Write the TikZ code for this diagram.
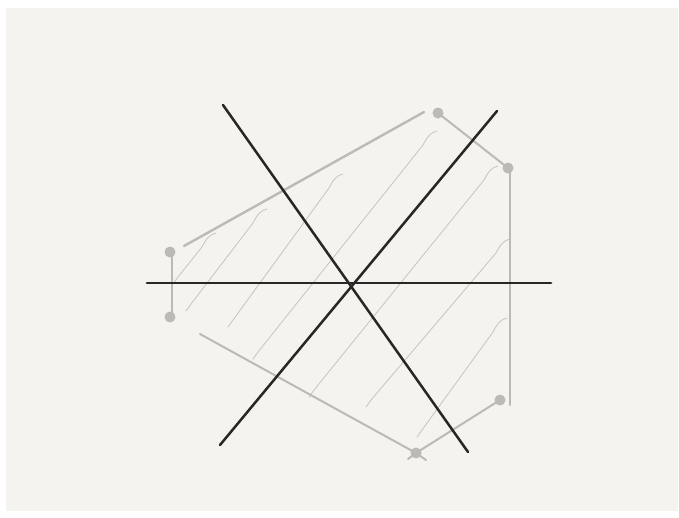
\documentclass[tikz,border=0pt]{standalone}
\usepackage{tikz}
\usetikzlibrary{calc}
\definecolor{paper}{RGB}{244,243,240}
\definecolor{inkDark}{RGB}{40,39,37}
\definecolor{inkGrey}{RGB}{188,186,180}
\definecolor{inkHatch}{RGB}{198,196,190}

\begin{document}
\begin{tikzpicture}[x=1pt, y=-1pt,
    axis/.style={draw=inkDark, line width=2.5pt, line cap=round},
    edge/.style={draw=inkGrey, line width=2pt, line cap=round},
    hatch/.style={draw=inkHatch, line width=0.8pt, line cap=round},
    dot/.style={fill=inkGrey}]
\useasboundingbox (0,0) rectangle (679,517);
\fill[white] (0,0) rectangle (679,517);
\fill[paper] (6,8) rectangle (678,511);

% polygon corners
\coordinate (pTop)  at (438,113);
\coordinate (pRt)   at (508,168);
\coordinate (pLowR) at (500,400);
\coordinate (pBot)  at (416,453);
\coordinate (pLfU)  at (170,252);
\coordinate (pLfD)  at (170,317);

% hatching (loose, hand drawn)
\foreach \sx/\sy/\ex/\ey in {216/233/173/284, 267/209/186/311,
                             343/174/228/327, 437/131/253/359,
                             498/166/309/397, 510/239/366/407,
                             507/318/417/437}
   \draw[hatch] (\sx,\sy) .. controls ($(\sx,\sy)+(-6,1)$) and ($(\sx,\sy)+(-10,6)$) .. ($(\sx,\sy)+(-14,14)$)
                -- ($(\ex,\ey)+(5,-7)$) .. controls ($(\ex,\ey)+(2,-3)$) .. (\ex,\ey);

% polygon edges
\draw[edge, line width=2.4pt] (184,246) -- (424,112);
\draw[edge] (pTop) -- (pRt);
\draw[edge] (510,172) -- (510,405);
\draw[edge] (pLowR) -- (pBot);
\draw[edge] (200,334) -- (pBot) -- (426,460);
\draw[edge] (408,459) -- (pBot);
\draw[edge] (172,256) -- (172,316);

% corner dots
\foreach \p in {pTop,pRt,pLowR,pBot,pLfU,pLfD}
   \fill[dot] (\p) circle (5.5);

% three lines through the centre
\coordinate (ctr) at (352,284);
\draw[axis, line width=2.8pt] (147,283) -- (551,283);
\draw[axis] (223,105) -- (468,452);
\draw[axis] (497,111) -- (220,445);

\end{tikzpicture}
\end{document}
